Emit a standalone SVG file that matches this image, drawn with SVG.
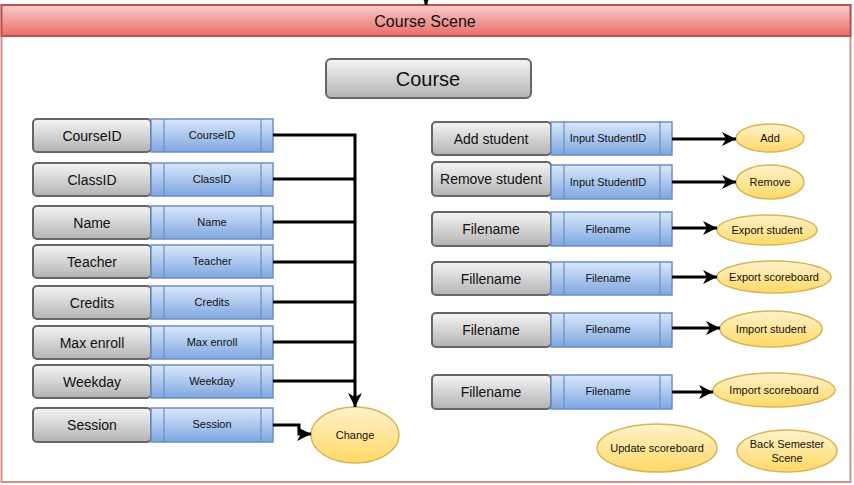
<svg xmlns="http://www.w3.org/2000/svg" width="854" height="485" viewBox="0 0 854 485">
<defs>
<linearGradient id="gHead" x1="0" y1="0" x2="0" y2="1"><stop offset="0" stop-color="#f8cecc"/><stop offset="1" stop-color="#ea6b66"/></linearGradient>
<linearGradient id="gGray" x1="0" y1="0" x2="0" y2="1"><stop offset="0" stop-color="#f5f5f5"/><stop offset="1" stop-color="#b3b3b3"/></linearGradient>
<linearGradient id="gBlue" x1="0" y1="0" x2="0" y2="1"><stop offset="0" stop-color="#dae8fc"/><stop offset="1" stop-color="#7ea6e0"/></linearGradient>
<linearGradient id="gYel" x1="0" y1="0" x2="0" y2="1"><stop offset="0" stop-color="#fff2cc"/><stop offset="1" stop-color="#ffd966"/></linearGradient>
<marker id="arr" viewBox="0 0 14 14" refX="14" refY="7" markerWidth="14" markerHeight="14" markerUnits="userSpaceOnUse" orient="auto"><path d="M0,0 L14,7 L0,14 L4,7 Z" fill="#000"/></marker>
<marker id="arrS" viewBox="0 0 8 8" refX="8" refY="4" markerWidth="8" markerHeight="8" markerUnits="userSpaceOnUse" orient="auto"><path d="M0,0 L8,4 L0,8 L2,4 Z" fill="#000"/></marker>
</defs>
<style>
.btn{fill:url(#gGray);stroke:#666;stroke-width:2}
.fld{fill:url(#gBlue);stroke:#6c8ebf;stroke-width:1.5}
.div{stroke:#6c8ebf;stroke-width:1.2;fill:none}
.ell{fill:url(#gYel);stroke:#d6b656;stroke-width:1.5}
.t{font-family:"Liberation Sans",Arial,sans-serif;text-anchor:middle;dominant-baseline:central}
.tb{font-size:14px;fill:#111}
.tf{font-size:11px;fill:#111}
.te{font-size:11px;fill:#111}
.cn{fill:none;stroke:#000;stroke-width:3}
</style>
<g id="container">
<rect x="1.5" y="5" width="849" height="477" fill="#fff" stroke="#d58f8d" stroke-width="2"/>
<rect x="1.5" y="5" width="849" height="31" fill="url(#gHead)" stroke="#b85450" stroke-width="2"/>
<text class="t" x="425" y="21" font-size="16" fill="#111">Course Scene</text>
</g>
<g id="course">
<rect class="btn" x="326" y="59" width="205" height="39" rx="5"/>
<text class="t" x="428" y="79" font-size="20" fill="#111">Course</text>
</g>
<g id="row-courseid"><rect class="btn" x="33" y="119" width="118" height="33" rx="4"/><text class="t tb" x="92" y="136">CourseID</text><rect class="fld" x="151" y="119" width="122" height="33"/><path class="div" d="M164,119V152M261,119V152"/><text class="t tf" x="212" y="135">CourseID</text></g>
<g id="row-classid"><rect class="btn" x="33" y="163" width="118" height="33" rx="4"/><text class="t tb" x="92" y="180">ClassID</text><rect class="fld" x="151" y="163" width="122" height="33"/><path class="div" d="M164,163V196M261,163V196"/><text class="t tf" x="212" y="179">ClassID</text></g>
<g id="row-name"><rect class="btn" x="33" y="206" width="118" height="33" rx="4"/><text class="t tb" x="92" y="223">Name</text><rect class="fld" x="151" y="206" width="122" height="33"/><path class="div" d="M164,206V239M261,206V239"/><text class="t tf" x="212" y="222">Name</text></g>
<g id="row-teacher"><rect class="btn" x="33" y="245" width="118" height="33" rx="4"/><text class="t tb" x="92" y="262">Teacher</text><rect class="fld" x="151" y="245" width="122" height="33"/><path class="div" d="M164,245V278M261,245V278"/><text class="t tf" x="212" y="261">Teacher</text></g>
<g id="row-credits"><rect class="btn" x="33" y="286" width="118" height="33" rx="4"/><text class="t tb" x="92" y="303">Credits</text><rect class="fld" x="151" y="286" width="122" height="33"/><path class="div" d="M164,286V319M261,286V319"/><text class="t tf" x="212" y="302">Credits</text></g>
<g id="row-maxenroll"><rect class="btn" x="33" y="326" width="118" height="33" rx="4"/><text class="t tb" x="92" y="343">Max enroll</text><rect class="fld" x="151" y="326" width="122" height="33"/><path class="div" d="M164,326V359M261,326V359"/><text class="t tf" x="212" y="342">Max enroll</text></g>
<g id="row-weekday"><rect class="btn" x="33" y="365" width="118" height="33" rx="4"/><text class="t tb" x="92" y="382">Weekday</text><rect class="fld" x="151" y="365" width="122" height="33"/><path class="div" d="M164,365V398M261,365V398"/><text class="t tf" x="212" y="381">Weekday</text></g>
<g id="row-session"><rect class="btn" x="33" y="408" width="118" height="34" rx="4"/><text class="t tb" x="92" y="425">Session</text><rect class="fld" x="151" y="408" width="122" height="34"/><path class="div" d="M164,408V442M261,408V442"/><text class="t tf" x="212" y="424">Session</text></g>
<g id="row-add"><rect class="btn" x="432" y="122" width="119" height="33" rx="4"/><text class="t tb" x="491" y="139">Add student</text><rect class="fld" x="551" y="122" width="121" height="33"/><path class="div" d="M564,122V155M660,122V155"/><text class="t tf" x="608" y="138">Input StudentID</text></g>
<g id="row-remove"><rect class="btn" x="432" y="162" width="119" height="34" rx="4"/><text class="t tb" x="491" y="179">Remove student</text><rect class="fld" x="551" y="165" width="121" height="34"/><path class="div" d="M564,165V199M660,165V199"/><text class="t tf" x="608" y="182">Input StudentID</text></g>
<g id="row-export-student"><rect class="btn" x="432" y="212" width="119" height="34" rx="4"/><text class="t tb" x="491" y="229">Filename</text><rect class="fld" x="551" y="212" width="121" height="34"/><path class="div" d="M564,212V246M660,212V246"/><text class="t tf" x="608" y="229">Filename</text></g>
<g id="row-export-scoreboard"><rect class="btn" x="432" y="262" width="119" height="33" rx="4"/><text class="t tb" x="491" y="279">Fillename</text><rect class="fld" x="551" y="262" width="121" height="33"/><path class="div" d="M564,262V295M660,262V295"/><text class="t tf" x="608" y="278">Filename</text></g>
<g id="row-import-student"><rect class="btn" x="432" y="313" width="119" height="34" rx="4"/><text class="t tb" x="491" y="330">Filename</text><rect class="fld" x="551" y="313" width="121" height="34"/><path class="div" d="M564,313V347M660,313V347"/><text class="t tf" x="608" y="329">Filename</text></g>
<g id="row-import-scoreboard"><rect class="btn" x="432" y="375" width="119" height="34" rx="4"/><text class="t tb" x="491" y="392">Fillename</text><rect class="fld" x="551" y="375" width="121" height="34"/><path class="div" d="M564,375V409M660,375V409"/><text class="t tf" x="608" y="391">Filename</text></g>
<g id="change"><ellipse class="ell" cx="355" cy="435" rx="44" ry="28"/><text class="t te" x="355" y="435">Change</text></g>
<g id="add"><ellipse class="ell" cx="770" cy="138" rx="34" ry="14"/><text class="t te" x="770" y="138">Add</text></g>
<g id="remove"><ellipse class="ell" cx="770" cy="182" rx="34" ry="17"/><text class="t te" x="770" y="182">Remove</text></g>
<g id="export-student"><ellipse class="ell" cx="767" cy="230" rx="50" ry="15"/><text class="t te" x="767" y="230">Export student</text></g>
<g id="export-scoreboard"><ellipse class="ell" cx="774" cy="277" rx="57" ry="16"/><text class="t te" x="774" y="277">Export scoreboard</text></g>
<g id="import-student"><ellipse class="ell" cx="771" cy="329" rx="51" ry="18"/><text class="t te" x="771" y="329">Import student</text></g>
<g id="import-scoreboard"><ellipse class="ell" cx="774" cy="390" rx="61" ry="17"/><text class="t te" x="774" y="390">Import scoreboard</text></g>
<g id="update-scoreboard"><ellipse class="ell" cx="657" cy="448" rx="60" ry="24"/><text class="t te" x="657" y="448">Update scoreboard</text></g>
<g id="back-semester"><ellipse class="ell" cx="787" cy="451" rx="50" ry="21"/><text class="t te" x="787" y="444">Back Semester</text><text class="t te" x="787" y="458">Scene</text></g>
<g id="connectors">
<path class="cn" d="M426,-6V5" stroke-width="2" marker-end="url(#arrS)"/>
<path class="cn" d="M273,135H355V407" marker-end="url(#arr)"/>
<path class="cn" d="M273,179H355M273,222H355M273,262H355M273,302H355M273,342H355M273,381H355"/>
<path class="cn" d="M273,425H299V434H311" marker-end="url(#arr)"/>
<path class="cn" d="M672,139H736" marker-end="url(#arr)"/>
<path class="cn" d="M672,182H736" marker-end="url(#arr)"/>
<path class="cn" d="M672,228H717" marker-end="url(#arr)"/>
<path class="cn" d="M672,277H717" marker-end="url(#arr)"/>
<path class="cn" d="M672,328H720" marker-end="url(#arr)"/>
<path class="cn" d="M672,392H713" marker-end="url(#arr)"/>
</g>
</svg>
